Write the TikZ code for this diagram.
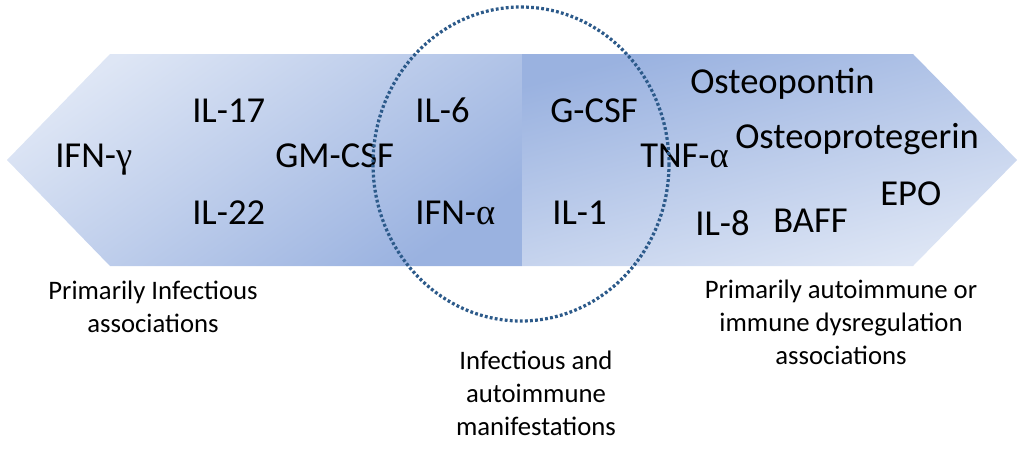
\documentclass[tikz,border=0pt]{standalone}
\usepackage{fontspec}
\setmainfont{Carlito}
\newfontfamily\greekfont{Liberation Serif}
\definecolor{arrowlight}{HTML}{DEE6F5}
\definecolor{arrowdark}{HTML}{9AB2E0}
\definecolor{ringblue}{HTML}{2C5A8A}
\begin{document}
\begin{tikzpicture}[x=0.025cm,y=-0.025cm,
  cyto/.style={font=\fontsize{26}{30}\selectfont,inner sep=0pt,anchor=base west},
  group/.style={font=\fontsize{19}{23.2}\selectfont,inner sep=0pt,align=center,anchor=north}]
  \useasboundingbox (0,0) rectangle (1024,448);
  % 左箭头
  \shade[shading=axis,top color=arrowlight,bottom color=arrowdark,shading angle=35]
    (522,54) -- (110,54) -- (7,160) -- (110,266) -- (522,266) -- cycle;
  % 右箭头
  \shade[shading=axis,top color=arrowdark,bottom color=arrowlight,shading angle=15]
    (522,54) -- (913,54) -- (1017,160) -- (913,266) -- (522,266) -- cycle;

  % 左侧细胞因子
  \node[cyto] (ifng) at (55,167) {IFN-{\greekfont γ}};
  \node[cyto] (il17) at (192,122) {IL-17};
  \node[cyto] (il22) at (192,224) {IL-22};
  \node[cyto] (gmcsf) at (275,167) {GM-CSF};
  \node[cyto] (il6) at (415,122) {IL-6};
  \node[cyto] (ifna) at (415,224) {IFN-{\greekfont α}};
  % 右侧细胞因子
  \node[cyto] (gcsf) at (550,122) {G-CSF};
  \node[cyto] (il1) at (552,224) {IL-1};
  \node[cyto] (tnfa) at (640,167) {TNF-{\greekfont α}};
  \node[cyto] (opn) at (690,93) {Osteopontin};
  \node[cyto] (opg) at (735,148) {Osteoprotegerin};
  \node[cyto] (epo) at (880,205) {EPO};
  \node[cyto] (il8) at (695,235) {IL-8};
  \node[cyto] (baff) at (773,232) {BAFF};

  % 虚线圆
  \draw[ringblue,line width=2.3pt,dash pattern=on 2pt off 1.6pt]
    (521,164) ellipse [x radius=148,y radius=157];

  % 下方说明
  \node[group] (infect) at (153,281) {Primarily Infectious\\associations};
  \node[group] (both) at (536,351) {Infectious and\\autoimmune\\manifestations};
  \node[group] (auto) at (841,280) {Primarily autoimmune or\\immune dysregulation\\associations};
\end{tikzpicture}
\end{document}
